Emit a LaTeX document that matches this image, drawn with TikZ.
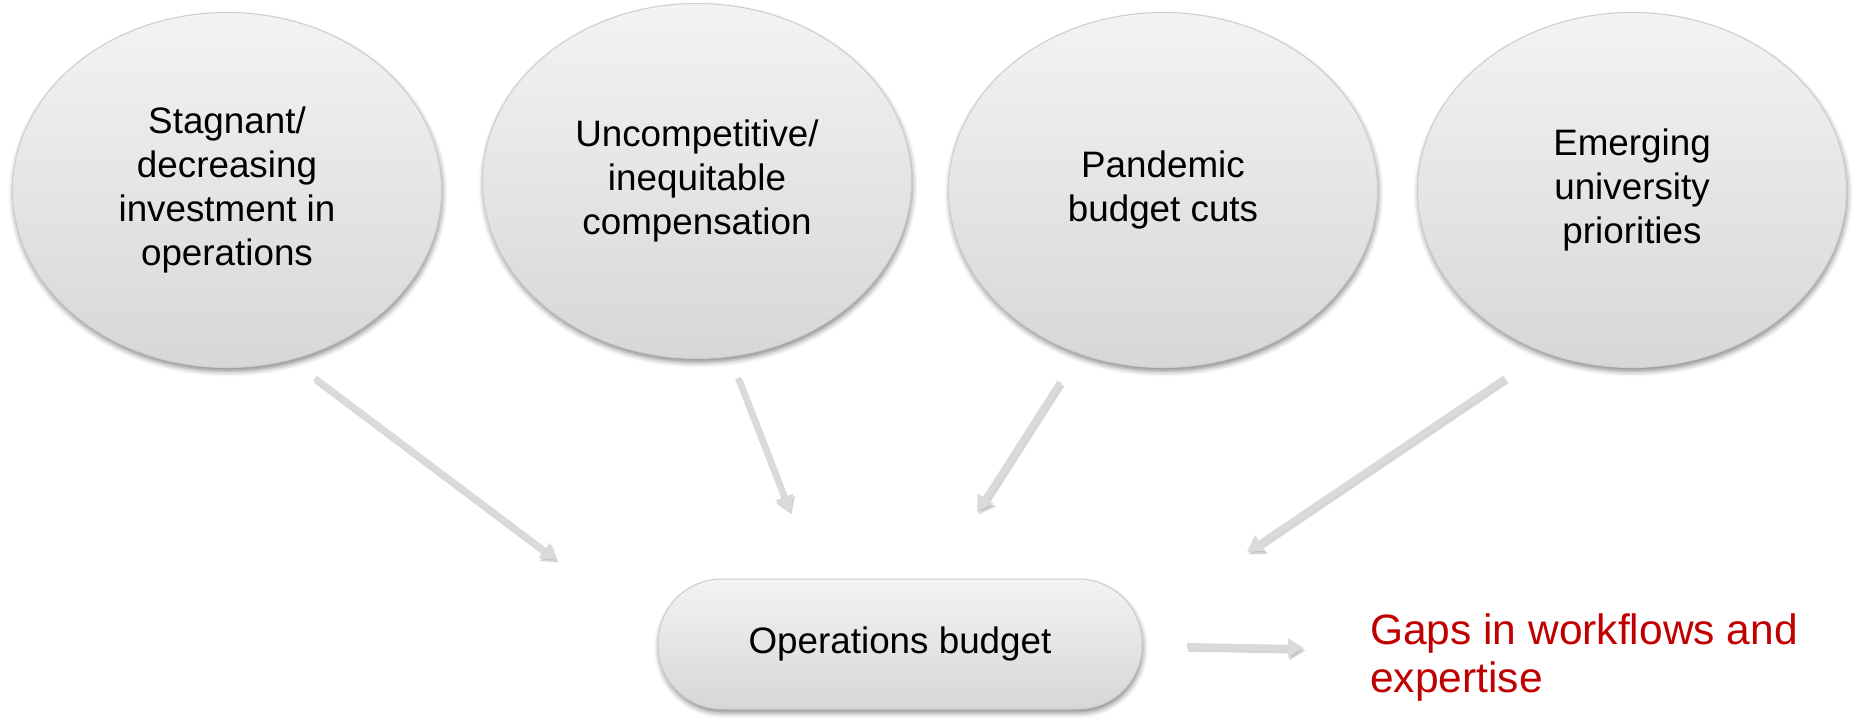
\documentclass[tikz,border=0pt]{standalone}
\usepackage{fontspec}
\setmainfont{Liberation Sans}
\usetikzlibrary{shapes.geometric,arrows.meta,shadows.blur}
\definecolor{fillTop}{RGB}{243,243,243}
\definecolor{fillBot}{RGB}{215,215,215}
\definecolor{edgeC}{RGB}{205,205,205}
\definecolor{arrowC}{RGB}{218,218,218}
\definecolor{shadowC}{RGB}{120,120,120}
\definecolor{redC}{RGB}{192,0,0}
\begin{document}
\begin{tikzpicture}[x=1pt,y=-1pt,
  bubble/.style={ellipse, minimum width=429pt, minimum height=355pt, inner sep=0pt,
    top color=fillTop, bottom color=fillBot, draw=edgeC, line width=1pt,
    align=center, font=\fontsize{36.8}{44}\selectfont,
    blur shadow={shadow xshift=1pt, shadow yshift=-4pt, shadow blur radius=5pt, shadow opacity=45}},
  pill/.style={rectangle, rounded corners=64pt, minimum width=484pt, minimum height=130pt, inner sep=0pt,
    top color=fillTop, bottom color=fillBot, draw=edgeC, line width=1pt,
    font=\fontsize{36.8}{44}\selectfont,
    blur shadow={shadow xshift=1pt, shadow yshift=-4pt, shadow blur radius=5pt, shadow opacity=45}},
  redtext/.style={text=redC, align=left, inner sep=0pt, font=\fontsize{42.5}{48}\selectfont},
  arrowmain/.style={draw=arrowC, line width=6pt, -{Triangle[length=16pt,width=18pt]}},
  arrowshadow/.style={draw=shadowC, opacity=0.3, line width=6.5pt, -{Triangle[length=16pt,width=19pt]},
    transform canvas={shift={(1.5pt,-2.5pt)}}}
]
\useasboundingbox (0,0) rectangle (1858,718);

\node[bubble] (e1) at (227,190) {Stagnant/\\decreasing\\investment in\\operations};
\node[bubble] (e2) at (697,181) {Uncompetitive/\\inequitable\\compensation};
\node[bubble] (e3) at (1163,190) {Pandemic\\budget cuts};
\node[bubble] (e4) at (1632,190) {Emerging\\university\\priorities};

\node[pill] (ops) at (900,644) {Operations budget};

\node[redtext, anchor=base west] (gaps) at (1370,692) {Gaps in workflows and\\expertise};

\coordinate (s1) at (315,378);  \coordinate (t1) at (557,560);
\coordinate (s2) at (738,378);  \coordinate (t2) at (790,512);
\coordinate (s3) at (1060,382); \coordinate (t3) at (977,512);
\coordinate (s4) at (1505,378); \coordinate (t4) at (1247,552);
\coordinate (s5) at (1187,646); \coordinate (t5) at (1304,648);

\foreach \i in {1,...,5}{
  \draw[arrowshadow] (s\i) -- (t\i);
  \draw[arrowmain] (s\i) -- (t\i);
}
\end{tikzpicture}
\end{document}
